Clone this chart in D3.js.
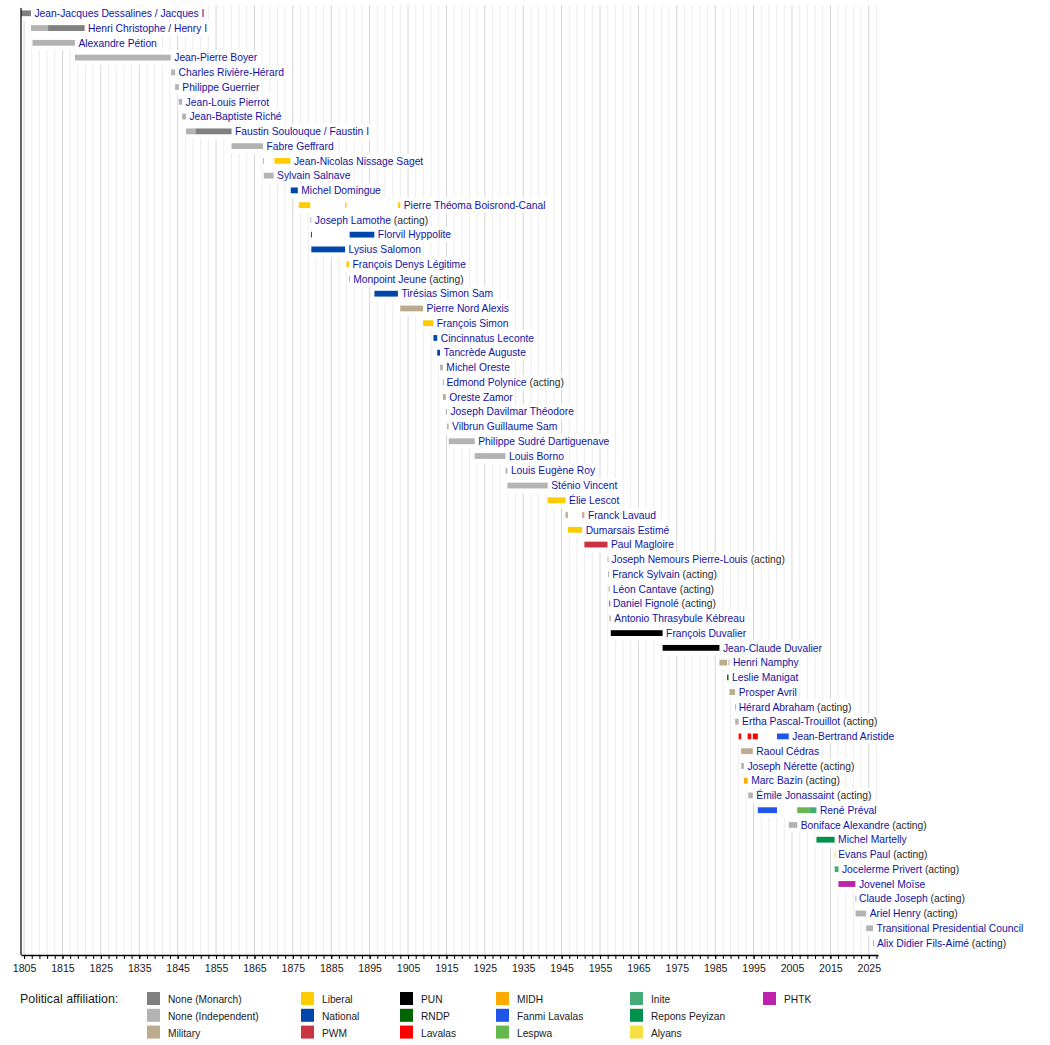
<!DOCTYPE html>
<html>
<head>
<meta charset="utf-8">
<script src="https://cdn.jsdelivr.net/npm/d3@7"></script>
<style>
body{margin:0;background:#fff}
svg{display:block;font-family:"Liberation Sans",Arial,sans-serif}
</style>
</head>
<body>
<svg id="chart" width="1050" height="1045"></svg>
<script>
// heads of state, one row each, top to bottom
var presidents = [
  "Jean-Jacques Dessalines / Jacques I","Henri Christophe / Henry I","Alexandre Pétion","Jean-Pierre Boyer",
  "Charles Rivière-Hérard","Philippe Guerrier","Jean-Louis Pierrot","Jean-Baptiste Riché",
  "Faustin Soulouque / Faustin I","Fabre Geffrard","Jean-Nicolas Nissage Saget","Sylvain Salnave",
  "Michel Domingue","Pierre Théoma Boisrond-Canal","Joseph Lamothe","Florvil Hyppolite",
  "Lysius Salomon","François Denys Légitime","Monpoint Jeune","Tirésias Simon Sam",
  "Pierre Nord Alexis","François Simon","Cincinnatus Leconte","Tancrède Auguste",
  "Michel Oreste","Edmond Polynice","Oreste Zamor","Joseph Davilmar Théodore",
  "Vilbrun Guillaume Sam","Philippe Sudré Dartiguenave","Louis Borno","Louis Eugène Roy",
  "Sténio Vincent","Élie Lescot","Franck Lavaud","Dumarsais Estimé",
  "Paul Magloire","Joseph Nemours Pierre-Louis","Franck Sylvain","Léon Cantave",
  "Daniel Fignolé","Antonio Thrasybule Kébreau","François Duvalier","Jean-Claude Duvalier",
  "Henri Namphy","Leslie Manigat","Prosper Avril","Hérard Abraham",
  "Ertha Pascal-Trouillot","Jean-Bertrand Aristide","Raoul Cédras","Joseph Nérette",
  "Marc Bazin","Émile Jonassaint","René Préval","Boniface Alexandre",
  "Michel Martelly","Evans Paul","Jocelerme Privert","Jovenel Moïse",
  "Claude Joseph","Ariel Henry","Transitional Presidential Council","Alix Didier Fils-Aimé"
];
var actingRows = [14,18,25,37,38,39,40,47,48,51,52,53,55,57,58,60,61,63];

// parties (legend order) and their colours
var parties = ["None (Monarch)","None (Independent)","Military","Liberal","National","PWM",
  "PUN","RNDP","Lavalas","MIDH","Fanmi Lavalas","Lespwa","Inite","Repons Peyizan","Alyans","PHTK"];
var partyColors = ["#808080","#b3b3b3","#bcab8e","#ffcc00","#0047ab","#cc3340",
  "#000000","#006400","#ff0000","#ffaa00","#1f55e8","#66b84e","#45ab78","#00924a","#f5e045","#bd22ab"];

// terms: [row, from, till, party]  (decimal years)
var terms = [
  [0,1804.0,1806.8,"None (Monarch)"],
  [1,1806.8,1811.25,"None (Independent)"],[1,1811.25,1820.77,"None (Monarch)"],
  [2,1807.2,1818.24,"None (Independent)"],
  [3,1818.25,1843.2,"None (Independent)"],
  [4,1843.3,1844.34,"None (Independent)"],
  [5,1844.34,1845.29,"None (Independent)"],
  [6,1845.29,1846.16,"None (Independent)"],
  [7,1846.16,1847.16,"None (Independent)"],
  [8,1847.17,1849.65,"None (Independent)"],[8,1849.65,1859.04,"None (Monarch)"],
  [9,1859.04,1867.2,"None (Independent)"],
  [10,1867.2,1867.45,"None (Independent)"],[10,1870.2,1874.36,"Liberal"],
  [11,1867.45,1869.99,"None (Independent)"],
  [12,1874.45,1876.29,"National"],
  [13,1876.54,1879.54,"Liberal"],[13,1888.6,1888.96,"Liberal"],[13,1902.4,1902.97,"Liberal"],
  [14,1879.55,1879.8,"None (Independent)"],
  [15,1879.7,1879.9,"National"],[15,1889.79,1896.23,"National"],
  [16,1879.81,1888.61,"National"],
  [17,1888.96,1889.64,"Liberal"],
  [18,1889.64,1889.79,"None (Independent)"],
  [19,1896.25,1902.36,"National"],
  [20,1902.97,1908.92,"Military"],
  [21,1908.92,1911.59,"Liberal"],
  [22,1911.62,1912.6,"National"],
  [23,1912.6,1913.33,"National"],
  [24,1913.34,1914.07,"None (Independent)"],
  [25,1914.07,1914.1,"None (Independent)"],
  [26,1914.1,1914.83,"Military"],
  [27,1914.85,1915.14,"None (Independent)"],
  [28,1915.17,1915.57,"Military"],
  [29,1915.61,1922.37,"None (Independent)"],
  [30,1922.37,1930.37,"None (Independent)"],
  [31,1930.37,1930.88,"None (Independent)"],
  [32,1930.88,1941.37,"None (Independent)"],
  [33,1941.37,1946.03,"Liberal"],
  [34,1946.03,1946.62,"Military"],[34,1950.35,1950.93,"Military"],
  [35,1946.62,1950.35,"Liberal"],
  [36,1950.93,1956.95,"PWM"],
  [37,1956.95,1957.1,"None (Independent)"],
  [38,1957.1,1957.25,"None (Independent)"],
  [39,1957.25,1957.4,"Military"],
  [40,1957.4,1957.45,"PWM"],
  [41,1957.45,1957.81,"Military"],
  [42,1957.81,1971.3,"PUN"],
  [43,1971.3,1986.1,"PUN"],
  [44,1986.1,1988.1,"Military"],[44,1988.47,1988.71,"Military"],
  [45,1988.1,1988.47,"RNDP"],
  [46,1988.71,1990.19,"Military"],
  [47,1990.19,1990.2,"None (Independent)"],
  [48,1990.2,1991.1,"None (Independent)"],
  [49,1991.1,1991.75,"Lavalas"],[49,1993.45,1994.36,"Lavalas"],[49,1994.79,1996.1,"Lavalas"],[49,2001.1,2004.16,"Fanmi Lavalas"],
  [50,1991.75,1994.79,"Military"],
  [51,1991.77,1992.47,"None (Independent)"],
  [52,1992.47,1993.45,"MIDH"],
  [53,1993.6,1994.8,"None (Independent)"],
  [54,1996.1,2001.1,"Fanmi Lavalas"],[54,2006.37,2009.5,"Lespwa"],[54,2009.5,2011.37,"Inite"],
  [55,2004.16,2006.37,"None (Independent)"],
  [56,2011.37,2016.1,"Repons Peyizan"],
  [57,2016.1,2016.12,"Alyans"],
  [58,2016.12,2017.1,"Inite"],
  [59,2017.1,2021.51,"PHTK"],
  [60,2021.51,2021.55,"None (Independent)"],
  [61,2021.55,2024.31,"None (Independent)"],
  [62,2024.31,2026.1,"None (Independent)"],
  [63,2026.1,2026.2,"None (Independent)"]
];

var majorTicks = d3.range(1805, 2026, 10);
var minorTicks = d3.range(1805, 2028, 2);

var svg = d3.select("#chart");
var axisY = 955;

var x = d3.scaleLinear().domain([1804.2, 2027.4]).range([21, 878]);
var y = d3.scaleLinear().domain([0, presidents.length - 1]).range([13.3, 943]);
var rowH = y(1) - y(0);
var color = d3.scaleOrdinal(parties, partyColors);

// grid
svg.append("g").selectAll("line")
  .data(minorTicks.filter(d => (d - 1805) % 10 != 0))
  .join("line")
  .attr("x1", d => x(d)).attr("x2", d => x(d))
  .attr("y1", 5).attr("y2", axisY)
  .attr("stroke", "#ededed").attr("stroke-width", 1);
svg.append("g").selectAll("line")
  .data(majorTicks)
  .join("line")
  .attr("x1", d => x(d)).attr("x2", d => x(d))
  .attr("y1", 5).attr("y2", axisY)
  .attr("stroke", "#d6d6d6").attr("stroke-width", 1);

// rows: white backing + bars + label
var rowsG = svg.append("g");
presidents.forEach(function(name, i){
  var mine = terms.filter(t => t[0] == i);
  var start = d3.min(mine, t => Math.max(x(t[1]), x.range()[0]));
  var end = d3.max(mine, t => x(t[2]));
  var g = rowsG.append("g");
  var bg = g.append("rect");
  g.selectAll("rect.bar")
    .data(mine)
    .join("rect")
    .attr("class", "bar")
    .attr("x", t => Math.max(x(t[1]), x.range()[0]))
    .attr("y", y(i) - 2.9)
    .attr("width", t => Math.max(1, x(t[2]) - Math.max(x(t[1]), x.range()[0])))
    .attr("height", 5.8)
    .attr("fill", t => color(t[3]));
  var txt = g.append("text")
    .attr("x", end + 3.5)
    .attr("y", y(i) + 3.7)
    .attr("font-size", "10.3px");
  txt.append("tspan").attr("fill", "#1212a2").text(name);
  if (actingRows.indexOf(i) >= 0) {
    txt.append("tspan").attr("fill", "#2a2a2a").text(" (acting)");
  }
  var tw = txt.node().getComputedTextLength();
  bg.attr("x", start - 1).attr("y", y(i) - rowH / 2)
    .attr("width", end + 3.5 + tw + 2 - (start - 1))
    .attr("height", rowH)
    .attr("fill", "#fff");
});

// axes
svg.append("line")
  .attr("x1", x.range()[0]).attr("x2", x.range()[0])
  .attr("y1", 8).attr("y2", axisY)
  .attr("stroke", "#000").attr("stroke-width", 1.2);

var axisG = svg.append("g").attr("transform", "translate(0," + axisY + ")");
axisG.call(d3.axisBottom(x).tickValues(minorTicks).tickSize(4).tickFormat("").tickSizeOuter(0));
axisG.call(g => g.select(".domain").attr("stroke-width", 1.4));
var labG = svg.append("g").attr("transform", "translate(0," + axisY + ")");
labG.call(d3.axisBottom(x).tickValues(majorTicks).tickSize(4).tickFormat(d3.format("d")).tickSizeOuter(0).tickPadding(5));
labG.select(".domain").remove();
labG.selectAll("text").attr("font-size", "10.6px").attr("font-family", "Liberation Sans, Arial, sans-serif").attr("fill", "#1a1a1a");

// legend
svg.append("text")
  .attr("x", 20).attr("y", 1003)
  .attr("font-size", "12.4px")
  .attr("fill", "#1a1a1a")
  .text("Political affiliation:");
var legendColX = [147, 301, 400, 496, 630, 763];
var leg = svg.append("g").selectAll("g")
  .data(parties)
  .join("g")
  .attr("transform", (d, i) => "translate(" + legendColX[Math.floor(i / 3)] + "," + (992 + (i % 3) * 16.8) + ")");
leg.append("rect")
  .attr("width", 13).attr("height", 13)
  .attr("fill", d => color(d));
leg.append("text")
  .attr("x", 21).attr("y", 11)
  .attr("font-size", "10.2px")
  .attr("fill", "#1a1a1a")
  .text(d => d);
</script>
</body>
</html>
